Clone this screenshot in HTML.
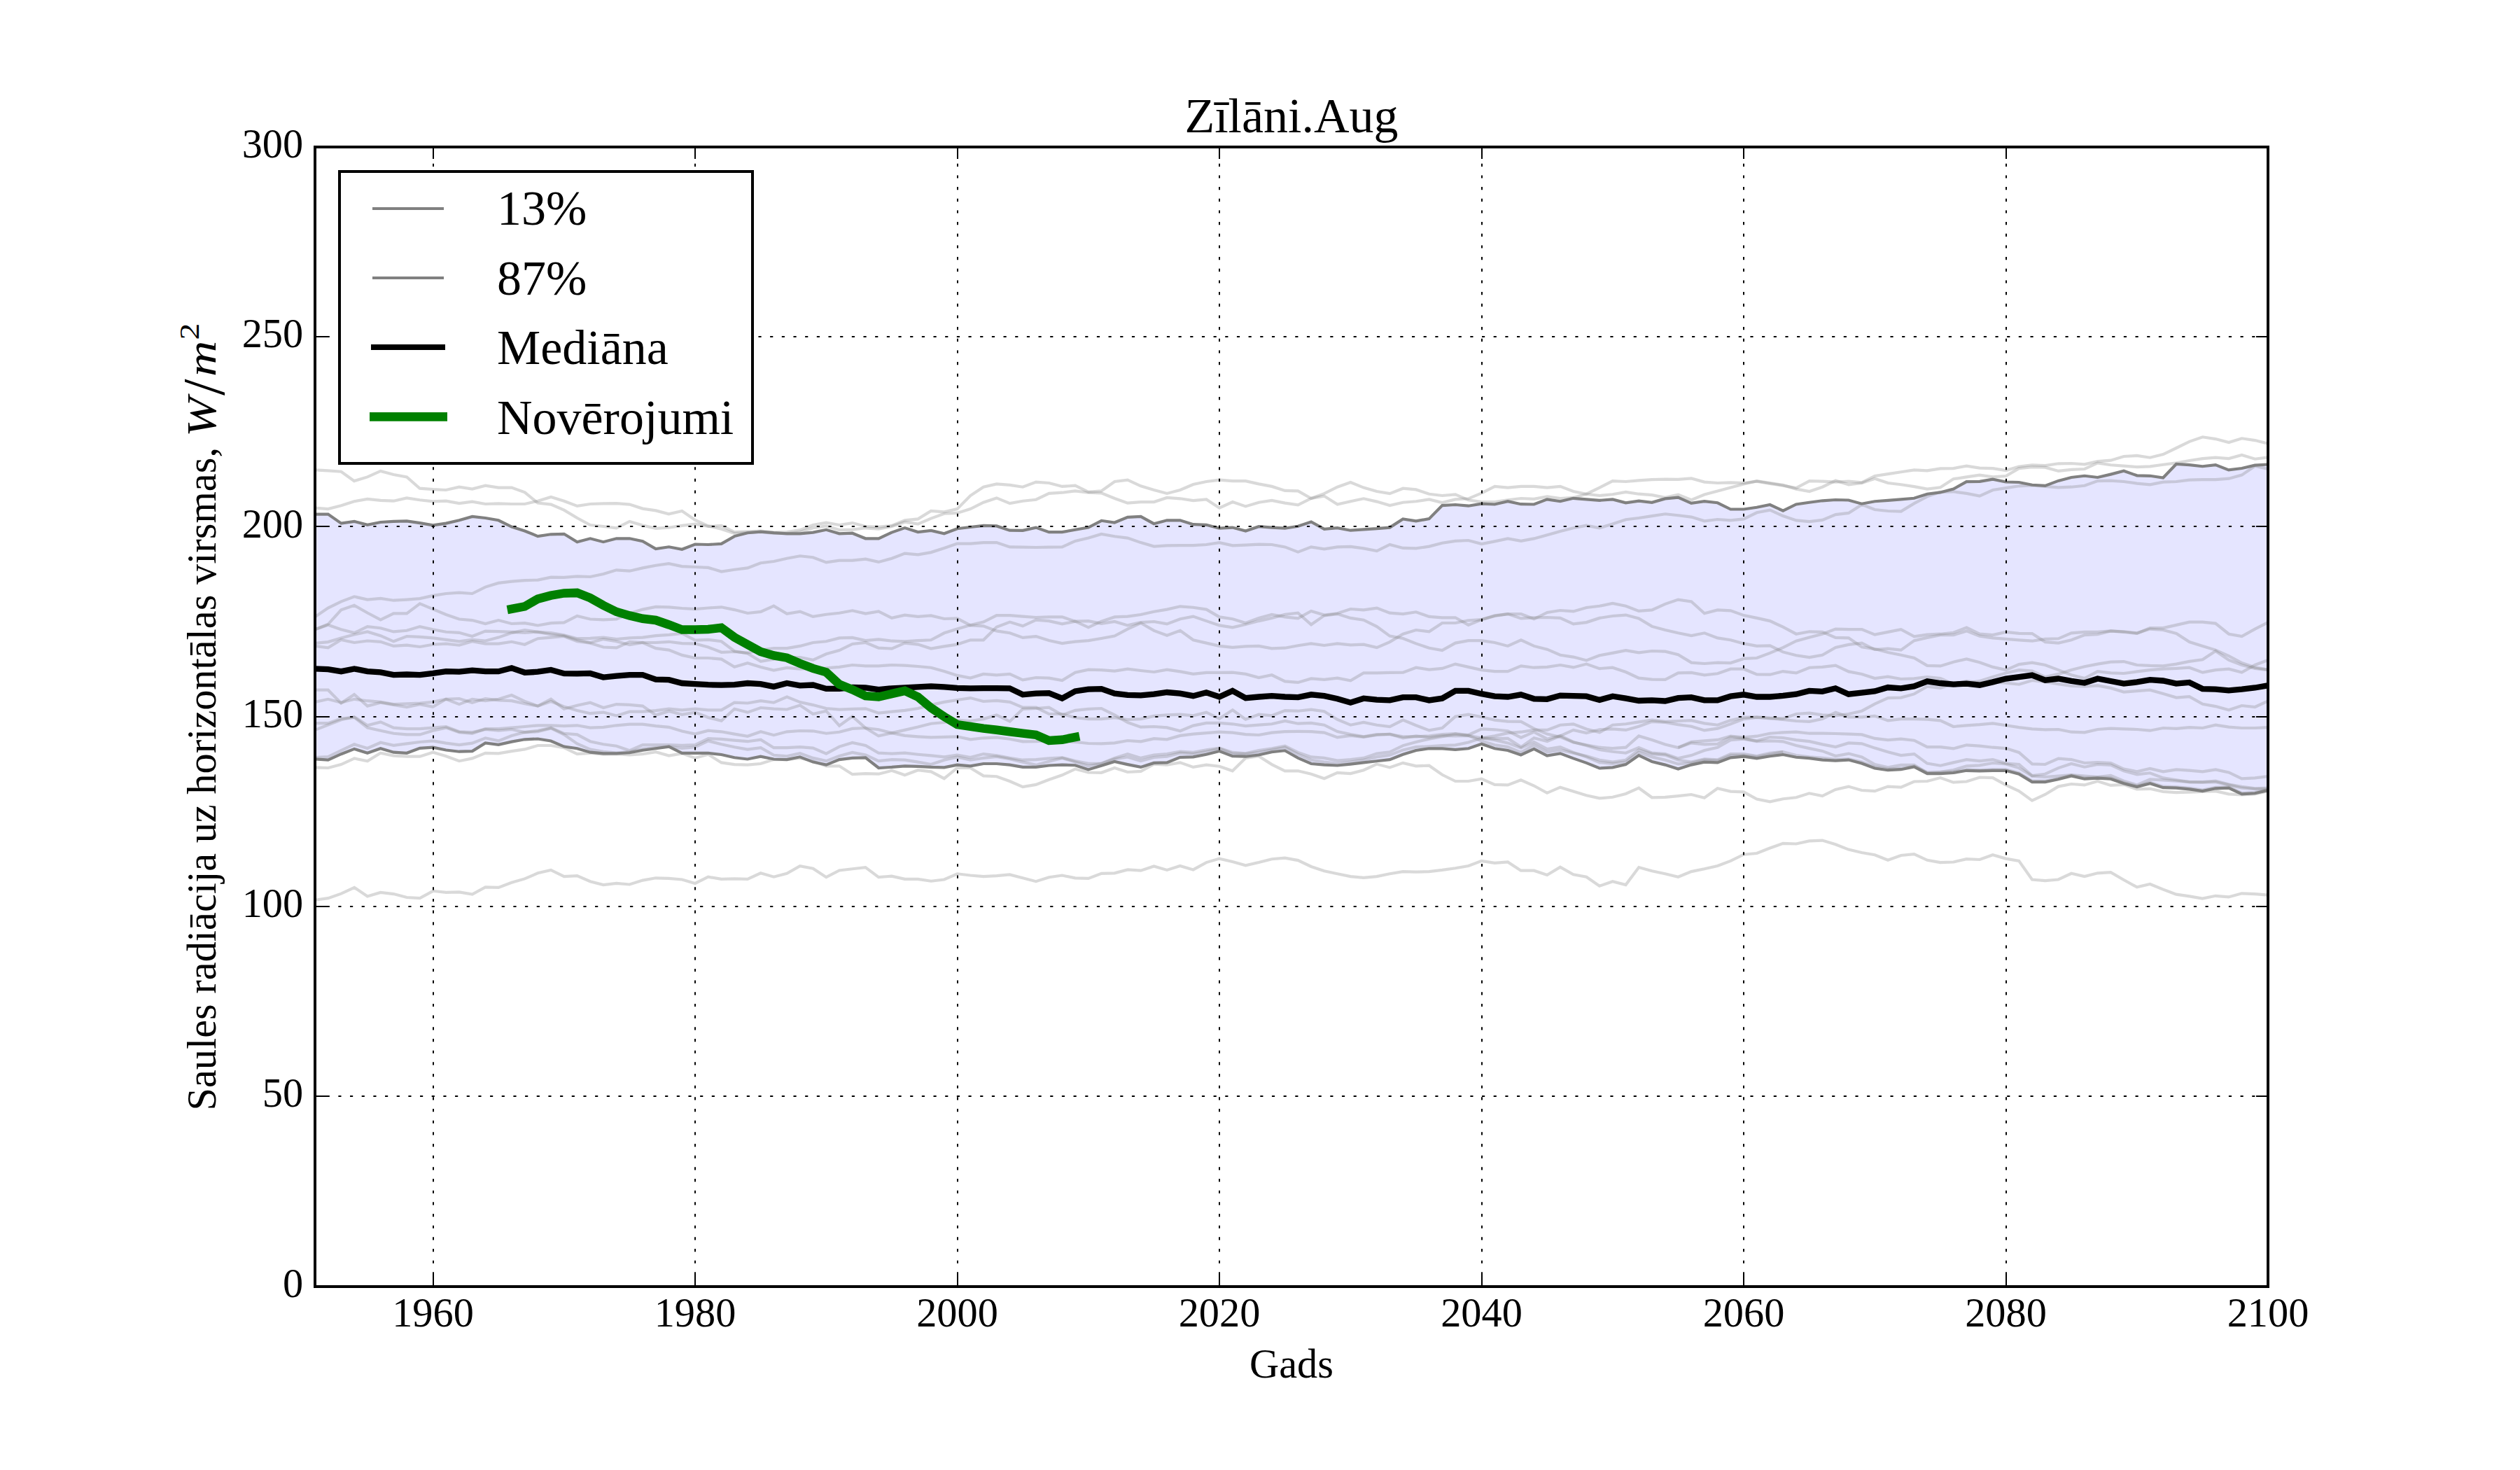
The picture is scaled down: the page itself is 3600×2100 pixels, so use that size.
<!DOCTYPE html>
<html><head><meta charset="utf-8"><title>Zīlāni.Aug</title>
<style>
html,body{margin:0;padding:0;background:#fff;}
body{width:3600px;height:2100px;overflow:hidden;}
svg{display:block;}
text{font-family:"Liberation Serif","DejaVu Serif",serif;fill:#000;}
.tk{font-size:58.33px;}
.lg{font-size:70px;}
.light{fill:none;stroke:#808080;stroke-opacity:0.3;stroke-width:4.17;stroke-linejoin:miter;stroke-linecap:butt;}
.dark{fill:none;stroke:#808080;stroke-width:4.17;stroke-linejoin:miter;stroke-linecap:square;}
.med{fill:none;stroke:#000;stroke-width:8.33;stroke-linejoin:miter;stroke-linecap:square;}
.obs{fill:none;stroke:#008000;stroke-width:12.5;stroke-linejoin:miter;stroke-linecap:square;}
.grid{fill:none;stroke:#000;stroke-width:2;stroke-dasharray:4.17 12.5;}
.tick{fill:none;stroke:#000;stroke-width:2;}
</style></head><body>
<svg width="3600" height="2100" viewBox="0 0 3600 2100">
<rect x="0" y="0" width="3600" height="2100" fill="#ffffff"/>
<defs><clipPath id="ax"><rect x="450" y="210" width="2790" height="1627.5"/></clipPath></defs>
<g clip-path="url(#ax)">
<polygon points="450.0,734.6 468.7,734.6 487.4,747.6 506.2,744.9 524.9,749.8 543.6,746.0 562.3,744.9 581.1,744.4 599.8,747.1 618.5,750.3 637.2,747.6 656.0,743.3 674.7,737.9 693.4,740.0 712.1,743.3 730.9,752.5 749.6,758.5 768.3,766.1 787.0,763.3 805.8,762.8 824.5,774.2 843.2,769.3 861.9,774.2 880.7,769.3 899.4,769.3 918.1,773.1 936.8,784.0 955.6,781.3 974.3,784.8 993.0,777.5 1011.7,778.0 1030.5,776.9 1049.2,766.1 1067.9,761.2 1086.6,759.6 1105.4,761.2 1124.1,762.3 1142.8,762.3 1161.5,760.6 1180.3,756.8 1199.0,762.3 1217.7,761.7 1236.4,769.3 1255.2,769.3 1273.9,760.6 1292.6,754.1 1311.3,760.1 1330.1,757.9 1348.8,762.3 1367.5,755.2 1386.2,753.0 1405.0,750.9 1423.7,751.4 1442.4,757.7 1461.1,757.9 1479.9,753.6 1498.6,760.1 1517.3,760.1 1536.0,756.8 1554.8,753.6 1573.5,743.8 1592.2,746.5 1610.9,738.9 1629.7,737.9 1648.4,748.2 1667.1,743.3 1685.8,743.3 1704.6,749.2 1723.3,749.8 1742.0,754.7 1760.7,753.6 1779.5,758.5 1798.2,752.2 1816.9,753.6 1835.6,754.7 1854.4,751.7 1873.1,745.4 1891.8,755.8 1910.5,754.1 1929.3,757.7 1948.0,756.3 1966.7,755.2 1985.4,753.6 2004.2,741.4 2022.9,744.4 2041.6,741.1 2060.3,722.1 2079.1,721.0 2097.8,722.7 2116.5,719.7 2135.2,720.5 2154.0,716.2 2172.7,720.2 2191.4,720.5 2210.1,713.4 2228.9,716.2 2247.6,711.8 2266.3,713.4 2285.0,714.8 2303.8,713.4 2322.5,718.3 2341.2,715.6 2359.9,717.8 2378.7,712.4 2397.4,710.7 2416.1,718.9 2434.8,716.2 2453.6,718.3 2472.3,727.5 2491.0,727.5 2509.7,724.8 2528.5,721.0 2547.2,729.7 2565.9,720.5 2584.6,717.8 2603.4,715.3 2622.1,714.0 2640.8,714.5 2659.5,719.7 2678.3,716.2 2697.0,714.8 2715.7,713.4 2734.4,711.8 2753.2,705.8 2771.9,703.4 2790.6,698.5 2809.3,688.2 2828.1,687.9 2846.8,684.7 2865.5,688.5 2884.2,689.0 2903.0,692.8 2921.7,693.9 2940.4,686.9 2959.1,682.0 2977.9,679.8 2996.6,682.0 3015.3,677.6 3034.0,672.8 3052.8,679.3 3071.5,679.8 3090.2,682.5 3108.9,663.0 3127.7,664.1 3146.4,666.2 3165.1,664.1 3183.8,671.4 3202.6,669.0 3221.3,664.6 3240.0,663.5 3240.0,1129.0 3221.3,1133.3 3202.6,1134.4 3183.8,1125.7 3165.1,1126.3 3146.4,1130.1 3127.7,1127.4 3108.9,1125.7 3090.2,1125.2 3071.5,1119.2 3052.8,1124.1 3034.0,1119.2 3015.3,1112.7 2996.6,1111.6 2977.9,1112.7 2959.1,1108.4 2940.4,1113.3 2921.7,1117.1 2903.0,1117.1 2884.2,1105.7 2865.5,1100.8 2846.8,1100.8 2828.1,1101.3 2809.3,1100.8 2790.6,1104.0 2771.9,1105.1 2753.2,1105.1 2734.4,1095.4 2715.7,1099.2 2697.0,1100.2 2678.3,1097.5 2659.5,1090.5 2640.8,1085.6 2622.1,1086.7 2603.4,1085.6 2584.6,1083.2 2565.9,1081.8 2547.2,1078.0 2528.5,1080.2 2509.7,1083.4 2491.0,1080.7 2472.3,1082.3 2453.6,1089.4 2434.8,1088.6 2416.1,1092.6 2397.4,1098.6 2378.7,1092.6 2359.9,1088.0 2341.2,1079.1 2322.5,1092.1 2303.8,1096.4 2285.0,1097.5 2266.3,1089.9 2247.6,1083.4 2228.9,1076.4 2210.1,1079.6 2191.4,1069.9 2172.7,1078.5 2154.0,1072.0 2135.2,1069.3 2116.5,1062.8 2097.8,1069.3 2079.1,1070.9 2060.3,1069.3 2041.6,1069.3 2022.9,1072.0 2004.2,1077.7 1985.4,1085.1 1966.7,1087.2 1948.0,1089.4 1929.3,1091.6 1910.5,1093.5 1891.8,1092.6 1873.1,1091.0 1854.4,1082.9 1835.6,1072.3 1816.9,1074.2 1798.2,1078.5 1779.5,1080.7 1760.7,1080.2 1742.0,1073.1 1723.3,1077.7 1704.6,1081.3 1685.8,1081.8 1667.1,1089.4 1648.4,1089.9 1629.7,1095.9 1610.9,1092.1 1592.2,1088.0 1573.5,1093.7 1554.8,1099.4 1536.0,1093.2 1517.3,1092.6 1498.6,1093.5 1479.9,1095.9 1461.1,1095.9 1442.4,1092.6 1423.7,1091.0 1405.0,1091.0 1386.2,1094.3 1367.5,1092.6 1348.8,1096.4 1330.1,1095.9 1311.3,1094.8 1292.6,1094.3 1273.9,1095.9 1255.2,1097.0 1236.4,1082.3 1217.7,1082.9 1199.0,1085.1 1180.3,1092.6 1161.5,1088.6 1142.8,1081.3 1124.1,1085.1 1105.4,1084.5 1086.6,1080.7 1067.9,1084.5 1049.2,1082.3 1030.5,1078.0 1011.7,1075.8 993.0,1075.8 974.3,1075.8 955.6,1066.6 936.8,1069.3 918.1,1071.8 899.4,1075.3 880.7,1076.4 861.9,1076.4 843.2,1074.7 824.5,1069.3 805.8,1066.6 787.0,1058.5 768.3,1055.5 749.6,1056.3 730.9,1059.6 712.1,1063.9 693.4,1061.5 674.7,1073.1 656.0,1073.7 637.2,1071.5 618.5,1067.7 599.8,1068.8 581.1,1075.8 562.3,1074.7 543.6,1069.3 524.9,1075.8 506.2,1069.9 487.4,1077.2 468.7,1085.6 450.0,1084.3" fill="#0000ff" fill-opacity="0.1"/>
<polyline class="light" points="450.0,671.4 468.6,672.3 487.4,673.7 506.0,687.1 524.9,681.4 543.7,672.9 562.3,678.0 581.1,681.4 599.7,697.7 618.6,699.1 637.1,700.0 656.0,695.7 674.6,698.6 693.4,693.7 712.0,696.6 730.9,696.6 749.7,703.4 768.3,718.6 787.1,720.6 805.7,728.6 824.6,740.0 843.1,750.0 862.0,752.0 880.6,754.3 899.4,744.9 918.0,750.6 936.9,754.9 955.4,753.7 974.3,750.9 993.1,748.6 1011.7,752.0 1030.6,750.9 1049.1,760.0 1068.0,759.4 1086.6,758.6 1105.4,760.6 1124.0,760.0 1142.9,757.1 1161.4,750.0 1180.3,746.6 1199.1,750.0 1217.7,747.1 1236.6,752.0 1255.1,752.9 1274.0,750.9 1292.6,743.4 1311.4,741.4 1330.0,730.0 1348.9,731.4 1367.4,727.1 1386.3,708.0 1404.9,695.7 1423.7,691.4 1442.6,692.9 1461.1,695.7 1480.0,688.6 1498.6,690.0 1517.4,694.9 1536.0,693.7 1554.9,702.9 1573.4,701.4 1592.3,688.0 1610.9,685.7 1629.7,694.3 1648.6,700.0 1667.1,704.9 1686.0,700.0 1704.6,692.0 1723.4,688.0 1742.0,685.7 1760.9,687.1 1779.4,687.1 1798.3,691.4 1816.9,694.9 1835.7,700.9 1854.3,701.4 1873.1,712.0 1891.7,705.1 1910.6,695.7 1929.4,689.1 1948.0,696.6 1966.9,702.0 1985.4,705.1 2004.3,697.7 2022.9,699.4 2041.7,705.7 2060.3,708.0 2079.1,706.3 2097.7,714.3 2116.6,717.1 2135.4,717.1 2154.0,714.3 2172.9,712.0 2191.4,712.9 2210.3,709.4 2228.9,712.0 2247.7,710.9 2266.3,705.7 2285.1,696.6 2303.7,687.1 2322.6,688.0 2341.1,686.3 2360.0,685.1 2378.9,684.6 2397.4,684.9 2416.3,683.4 2434.9,688.6 2453.7,690.0 2472.3,689.4 2491.1,690.0 2509.7,687.7 2528.6,690.9 2547.1,693.7 2566.0,697.1 2584.9,687.1 2603.4,687.7 2622.3,688.6 2640.9,687.7 2659.7,689.4 2678.3,680.0 2697.1,677.1 2715.7,674.3 2734.6,671.4 2753.1,672.3 2772.0,669.4 2790.6,669.1 2809.4,665.7 2828.0,668.6 2846.9,669.1 2865.7,672.0 2884.3,666.6 2903.1,664.3 2921.7,665.1 2940.6,662.3 2959.1,662.0 2978.0,663.4 2996.6,659.1 3015.4,657.7 3034.0,652.0 3052.9,650.9 3071.4,653.7 3090.3,649.1 3109.1,640.0 3127.7,630.9 3146.6,624.3 3165.1,627.1 3184.0,632.0 3202.6,626.3 3221.4,629.1 3240.0,633.7"/>
<polyline class="light" points="450.0,725.7 468.6,727.1 487.4,722.3 506.0,716.3 524.9,712.9 543.7,714.9 562.3,715.7 581.1,711.4 599.7,714.3 618.6,716.3 637.1,715.7 656.0,719.1 674.6,716.6 693.4,720.0 712.0,719.4 730.9,720.0 749.7,720.0 768.3,715.7 787.1,710.0 805.7,715.7 824.6,722.9 843.1,720.0 862.0,719.4 880.6,719.1 899.4,720.6 918.0,726.6 936.9,729.4 955.4,734.3 974.3,730.0 993.1,742.9 1011.7,751.4 1030.6,755.7 1049.1,762.0 1068.0,760.9 1086.6,760.0 1105.4,762.0 1124.0,762.0 1142.9,760.0 1161.4,754.3 1180.3,751.4 1199.1,757.1 1217.7,756.6 1236.6,754.3 1255.1,755.7 1274.0,752.0 1292.6,745.7 1311.4,748.6 1330.0,740.6 1348.9,733.7 1367.4,732.9 1386.3,727.1 1404.9,717.7 1423.7,711.4 1442.6,719.1 1461.1,715.7 1480.0,713.7 1498.6,704.9 1517.4,703.7 1536.0,701.4 1554.9,703.7 1573.4,704.3 1592.3,712.0 1610.9,718.6 1629.7,717.1 1648.6,717.1 1667.1,710.9 1686.0,712.3 1704.6,715.1 1723.4,713.4 1742.0,725.7 1760.9,717.1 1779.4,723.4 1798.3,717.7 1816.9,714.9 1835.7,718.6 1854.3,721.4 1873.1,712.0 1891.7,708.6 1910.6,720.6 1929.4,716.3 1948.0,712.3 1966.9,716.6 1985.4,722.0 2004.3,717.7 2022.9,716.3 2041.7,713.4 2060.3,718.0 2079.1,713.4 2097.7,712.3 2116.6,704.3 2135.4,694.9 2154.0,696.6 2172.9,694.9 2191.4,694.9 2210.3,696.6 2228.9,694.9 2247.7,702.0 2266.3,705.7 2285.1,708.0 2303.7,706.3 2322.6,702.9 2341.1,705.7 2360.0,707.1 2378.9,710.9 2397.4,706.6 2416.3,714.3 2434.9,706.6 2453.7,701.4 2472.3,696.6 2491.1,691.4 2509.7,687.1 2528.6,690.0 2547.1,692.9 2566.0,698.6 2584.9,702.0 2603.4,695.7 2622.3,686.6 2640.9,692.3 2659.7,690.0 2678.3,683.7 2697.1,690.0 2715.7,692.3 2734.6,695.1 2753.1,698.6 2772.0,696.3 2790.6,684.3 2809.4,681.4 2828.0,678.6 2846.9,681.4 2865.7,680.0 2884.3,669.1 2903.1,667.1 2921.7,667.7 2940.6,672.9 2959.1,670.9 2978.0,670.0 2996.6,661.4 3015.4,664.3 3034.0,665.7 3052.9,667.1 3071.4,666.3 3090.3,663.7 3109.1,661.4 3127.7,658.0 3146.6,655.1 3165.1,653.7 3184.0,655.1 3202.6,650.0 3221.4,655.7 3240.0,653.4"/>
<polyline class="light" points="450.0,881.4 468.6,868.6 487.4,859.4 506.0,852.3 524.9,856.6 543.7,854.9 562.3,857.7 581.1,856.6 599.7,855.1 618.6,850.9 637.1,848.0 656.0,846.6 674.6,848.0 693.4,838.6 712.0,832.9 730.9,830.6 749.7,829.1 768.3,828.6 787.1,824.6 805.7,824.9 824.6,823.4 843.1,824.0 862.0,820.0 880.6,814.3 899.4,815.7 918.0,811.4 936.9,807.7 955.4,805.1 974.3,809.1 993.1,810.0 1011.7,810.9 1030.6,816.6 1049.1,813.7 1068.0,811.4 1086.6,804.3 1105.4,802.0 1124.0,797.7 1142.9,794.3 1161.4,796.3 1180.3,803.4 1199.1,800.6 1217.7,800.6 1236.6,798.6 1255.1,802.9 1274.0,797.7 1292.6,790.6 1311.4,792.3 1330.0,789.1 1348.9,782.9 1367.4,776.6 1386.3,776.6 1404.9,775.1 1423.7,775.1 1442.6,781.4 1461.1,781.7 1480.0,782.0 1498.6,781.7 1517.4,781.4 1536.0,772.9 1554.9,768.6 1573.4,762.9 1592.3,766.3 1610.9,768.6 1629.7,775.1 1648.6,780.6 1667.1,779.4 1686.0,779.1 1704.6,779.1 1723.4,778.0 1742.0,775.1 1760.9,779.4 1779.4,778.6 1798.3,777.7 1816.9,778.0 1835.7,781.4 1854.3,788.6 1873.1,781.4 1891.7,784.3 1910.6,781.4 1929.4,780.9 1948.0,783.4 1966.9,787.1 1985.4,778.0 2004.3,782.9 2022.9,783.4 2041.7,780.6 2060.3,775.7 2079.1,772.9 2097.7,772.0 2116.6,777.1 2135.4,773.4 2154.0,769.4 2172.9,772.9 2191.4,769.4 2210.3,764.3 2228.9,759.1 2247.7,754.3 2266.3,750.6 2285.1,754.3 2303.7,748.6 2322.6,742.3 2341.1,740.0 2360.0,737.1 2378.9,734.3 2397.4,736.3 2416.3,738.6 2434.9,744.3 2453.7,742.0 2472.3,743.4 2491.1,741.4 2509.7,732.3 2528.6,728.6 2547.1,737.1 2566.0,743.4 2584.9,745.1 2603.4,742.9 2622.3,735.1 2640.9,732.9 2659.7,720.9 2678.3,728.0 2697.1,730.0 2715.7,730.6 2734.6,719.1 2753.1,709.4 2772.0,702.9 2790.6,702.3 2809.4,704.9 2828.0,708.6 2846.9,700.0 2865.7,697.1 2884.3,694.3 2903.1,693.4 2921.7,694.9 2940.6,696.3 2959.1,695.7 2978.0,693.7 2996.6,687.1 3015.4,686.6 3034.0,688.0 3052.9,690.6 3071.4,692.3 3090.3,688.6 3109.1,688.0 3127.7,685.7 3146.6,685.1 3165.1,685.1 3184.0,683.7 3202.6,678.6 3221.4,665.7 3240.0,670.0"/>
<polyline class="light" points="450.0,899.2 468.7,891.8 487.3,871.4 506.1,864.9 524.9,875.5 543.7,885.3 562.3,876.3 581.1,876.3 599.8,862.4 618.4,870.1 637.2,878.0 656.0,884.5 674.6,886.1 693.4,891.0 712.2,886.1 730.9,891.0 749.6,890.2 768.3,893.5 787.1,890.2 805.7,889.4 824.5,880.0 843.2,884.5 862.0,885.3 880.7,884.5 899.5,876.3 918.1,870.6 936.9,866.9 955.7,867.3 974.3,869.0 993.1,870.1 1011.8,868.5 1030.6,867.3 1049.2,871.1 1068.0,876.0 1086.8,873.9 1105.4,865.7 1124.2,876.7 1142.9,873.6 1161.4,880.9 1180.3,877.7 1199.1,875.7 1217.7,872.3 1236.6,876.6 1255.1,873.4 1274.0,882.9 1292.6,878.6 1311.4,880.9 1330.0,879.4 1348.9,884.0 1367.4,883.4 1386.3,893.4 1404.9,894.3 1423.7,901.4 1442.6,904.3 1461.1,910.9 1480.0,909.1 1498.6,915.1 1517.4,919.1 1536.0,916.6 1554.9,915.1 1573.4,912.0 1592.3,908.6 1610.9,898.6 1629.7,890.0 1648.6,900.9 1667.1,907.7 1686.0,900.9 1704.6,914.3 1723.4,918.6 1742.0,922.9 1760.9,924.9 1779.4,923.4 1798.3,922.9 1816.9,926.3 1835.7,925.7 1854.3,922.3 1873.1,919.4 1891.7,922.0 1910.6,919.4 1929.4,921.4 1948.0,920.6 1966.9,925.1 1985.4,917.1 2004.3,905.7 2022.9,900.0 2041.7,902.3 2060.3,890.0 2079.1,890.0 2097.7,886.3 2116.6,885.1 2135.4,880.0 2154.0,877.1 2172.9,877.1 2191.4,884.3 2210.3,874.9 2228.9,872.0 2247.7,873.4 2266.3,868.0 2285.1,865.7 2303.7,862.0 2322.6,865.7 2341.1,872.9 2360.0,871.4 2378.9,862.9 2397.4,856.6 2416.3,859.4 2434.9,876.3 2453.7,871.4 2472.3,872.3 2491.1,879.1 2509.7,882.9 2528.6,887.1 2547.1,895.7 2566.0,905.7 2584.9,902.3 2603.4,902.9 2622.3,910.9 2640.9,911.4 2659.7,924.3 2678.3,927.1 2697.1,932.0 2715.7,935.7 2734.6,940.0 2753.1,950.9 2772.0,951.4 2790.6,945.7 2809.4,941.4 2828.0,946.3 2846.9,952.9 2865.7,957.1 2884.3,949.1 2903.1,946.6 2921.7,950.0 2940.6,957.1 2959.1,964.3 2978.0,969.1 2996.6,959.1 3015.4,961.4 3034.0,962.0 3052.9,959.4 3071.4,957.1 3090.3,955.7 3109.1,954.9 3127.7,953.7 3146.6,960.6 3165.1,957.1 3184.0,955.7 3202.6,960.6 3221.4,950.0 3240.0,942.9"/>
<polyline class="light" points="450.0,899.2 468.7,892.7 487.3,899.2 506.1,904.1 524.9,895.1 543.7,897.2 562.3,902.4 581.1,900.8 599.8,895.1 618.4,899.2 637.2,902.8 656.0,903.8 674.6,909.0 693.4,901.6 712.2,902.1 730.9,902.8 749.6,903.8 768.3,902.8 787.1,904.1 805.7,907.3 824.5,912.2 843.2,911.9 862.0,910.6 880.7,913.1 899.5,911.4 918.1,910.6 936.9,908.2 955.7,906.9 974.3,904.9 993.1,914.7 1011.8,913.9 1030.6,916.3 1049.2,930.2 1068.0,933.5 1086.8,944.9 1105.4,941.6 1124.2,939.2 1142.9,939.0 1161.4,942.9 1180.3,934.3 1199.1,929.1 1217.7,920.0 1236.6,918.0 1255.1,925.7 1274.0,926.6 1292.6,918.6 1311.4,920.6 1330.0,926.6 1348.9,923.4 1367.4,920.6 1386.3,914.3 1404.9,914.3 1423.7,895.7 1442.6,888.6 1461.1,894.3 1480.0,885.7 1498.6,887.1 1517.4,891.4 1536.0,887.7 1554.9,887.1 1573.4,890.9 1592.3,888.0 1610.9,893.4 1629.7,889.1 1648.6,888.0 1667.1,891.4 1686.0,884.3 1704.6,880.6 1723.4,887.1 1742.0,893.4 1760.9,896.3 1779.4,892.0 1798.3,887.1 1816.9,882.9 1835.7,877.7 1854.3,875.7 1873.1,892.3 1891.7,879.4 1910.6,877.1 1929.4,882.9 1948.0,885.7 1966.9,895.1 1985.4,908.6 2004.3,912.0 2022.9,919.4 2041.7,925.7 2060.3,929.1 2079.1,918.6 2097.7,915.1 2116.6,915.1 2135.4,918.0 2154.0,922.9 2172.9,914.3 2191.4,922.9 2210.3,927.7 2228.9,935.7 2247.7,938.6 2266.3,943.4 2285.1,936.3 2303.7,932.9 2322.6,929.1 2341.1,932.3 2360.0,930.0 2378.9,930.6 2397.4,935.1 2416.3,946.6 2434.9,948.0 2453.7,946.6 2472.3,947.1 2491.1,940.9 2509.7,940.0 2528.6,932.9 2547.1,925.1 2566.0,915.7 2584.9,910.6 2603.4,905.7 2622.3,898.6 2640.9,899.1 2659.7,899.1 2678.3,906.6 2697.1,902.9 2715.7,899.1 2734.6,909.4 2753.1,906.6 2772.0,905.7 2790.6,903.7 2809.4,896.6 2828.0,905.7 2846.9,907.1 2865.7,902.9 2884.3,904.9 2903.1,905.1 2921.7,917.1 2940.6,918.6 2959.1,914.3 2978.0,907.1 2996.6,906.3 3015.4,901.4 3034.0,902.3 3052.9,904.3 3071.4,898.6 3090.3,900.0 3109.1,904.9 3127.7,917.1 3146.6,922.9 3165.1,928.6 3184.0,937.1 3202.6,947.1 3221.4,953.4 3240.0,956.6"/>
<polyline class="light" points="450.0,918.8 468.7,917.1 487.3,911.4 506.1,906.5 524.9,902.4 543.7,908.2 562.3,916.3 581.1,909.0 599.8,909.8 618.4,911.4 637.2,913.9 656.0,916.3 674.6,913.9 693.4,915.5 712.2,910.6 730.9,904.1 749.6,900.0 768.3,902.8 787.1,906.5 805.7,908.2 824.5,913.9 843.2,918.0 862.0,913.1 880.7,916.3 899.5,921.2 918.1,918.0 936.9,926.1 955.7,928.6 974.3,935.9 993.1,940.0 1011.8,940.0 1030.6,941.6 1049.2,952.7 1068.0,947.3 1086.8,953.1 1105.4,957.6 1124.2,953.9 1142.9,955.6 1161.4,954.9 1180.3,954.3 1199.1,952.9 1217.7,950.0 1236.6,951.4 1255.1,951.4 1274.0,950.0 1292.6,950.6 1311.4,952.0 1330.0,953.7 1348.9,959.1 1367.4,964.9 1386.3,968.6 1404.9,962.9 1423.7,964.3 1442.6,962.9 1461.1,971.4 1480.0,968.0 1498.6,968.6 1517.4,972.0 1536.0,960.6 1554.9,956.6 1573.4,957.1 1592.3,958.6 1610.9,955.7 1629.7,958.0 1648.6,960.0 1667.1,956.6 1686.0,959.4 1704.6,962.9 1723.4,960.9 1742.0,960.9 1760.9,960.6 1779.4,962.9 1798.3,968.0 1816.9,964.3 1835.7,973.4 1854.3,974.9 1873.1,969.4 1891.7,970.9 1910.6,968.6 1929.4,972.3 1948.0,961.4 1966.9,961.4 1985.4,960.9 2004.3,960.6 2022.9,953.7 2041.7,956.6 2060.3,954.9 2079.1,948.6 2097.7,952.9 2116.6,957.1 2135.4,959.1 2154.0,959.1 2172.9,951.4 2191.4,953.7 2210.3,952.9 2228.9,950.0 2247.7,953.4 2266.3,948.6 2285.1,955.1 2303.7,953.7 2322.6,960.0 2341.1,968.6 2360.0,970.6 2378.9,970.9 2397.4,961.4 2416.3,960.9 2434.9,964.3 2453.7,962.3 2472.3,955.7 2491.1,955.7 2509.7,963.4 2528.6,963.7 2547.1,959.1 2566.0,961.4 2584.9,953.7 2603.4,952.9 2622.3,950.6 2640.9,959.4 2659.7,962.9 2678.3,969.1 2697.1,966.6 2715.7,970.0 2734.6,969.4 2753.1,967.1 2772.0,969.1 2790.6,977.1 2809.4,972.9 2828.0,975.7 2846.9,974.3 2865.7,975.7 2884.3,977.7 2903.1,972.0 2921.7,974.3 2940.6,977.1 2959.1,980.0 2978.0,980.6 2996.6,979.4 3015.4,982.9 3034.0,988.6 3052.9,987.1 3071.4,985.7 3090.3,990.9 3109.1,996.6 3127.7,995.1 3146.6,1005.7 3165.1,1009.1 3184.0,1014.3 3202.6,1008.0 3221.4,1010.0 3240.0,1001.4"/>
<polyline class="light" points="450.0,922.9 468.7,925.3 487.3,913.9 506.1,918.0 524.9,915.5 543.7,916.8 562.3,922.9 581.1,921.7 599.8,924.0 618.4,920.7 637.2,919.6 656.0,921.7 674.6,916.3 693.4,919.6 712.2,919.6 730.9,916.8 749.6,920.7 768.3,912.2 787.1,910.6 805.7,909.0 824.5,916.3 843.2,918.8 862.0,924.5 880.7,925.3 899.5,916.8 918.1,918.0 936.9,918.0 955.7,916.8 974.3,919.1 993.1,919.6 1011.8,924.5 1030.6,931.8 1049.2,931.0 1068.0,932.7 1086.8,928.6 1105.4,926.1 1124.2,926.1 1142.9,922.9 1161.4,918.0 1180.3,916.3 1199.1,911.4 1217.7,910.9 1236.6,915.1 1255.1,913.4 1274.0,915.7 1292.6,916.3 1311.4,915.1 1330.0,914.3 1348.9,904.3 1367.4,898.6 1386.3,892.9 1404.9,888.6 1423.7,879.1 1442.6,879.1 1461.1,880.6 1480.0,882.0 1498.6,881.4 1517.4,881.4 1536.0,887.7 1554.9,896.3 1573.4,887.7 1592.3,881.4 1610.9,880.6 1629.7,878.0 1648.6,873.7 1667.1,870.6 1686.0,866.3 1704.6,867.7 1723.4,870.6 1742.0,881.4 1760.9,884.3 1779.4,890.0 1798.3,882.9 1816.9,878.0 1835.7,881.4 1854.3,883.4 1873.1,872.9 1891.7,878.6 1910.6,876.3 1929.4,870.0 1948.0,871.4 1966.9,868.6 1985.4,875.7 2004.3,877.1 2022.9,874.3 2041.7,880.9 2060.3,882.3 2079.1,882.3 2097.7,892.9 2116.6,885.1 2135.4,879.4 2154.0,877.1 2172.9,883.4 2191.4,882.3 2210.3,882.0 2228.9,882.9 2247.7,891.4 2266.3,889.1 2285.1,882.9 2303.7,880.0 2322.6,878.6 2341.1,883.4 2360.0,894.9 2378.9,900.0 2397.4,904.3 2416.3,908.0 2434.9,904.3 2453.7,911.4 2472.3,914.3 2491.1,919.4 2509.7,922.9 2528.6,922.3 2547.1,931.4 2566.0,936.3 2584.9,939.1 2603.4,935.7 2622.3,924.9 2640.9,920.9 2659.7,918.6 2678.3,928.0 2697.1,926.6 2715.7,928.6 2734.6,915.1 2753.1,910.9 2772.0,907.1 2790.6,907.1 2809.4,901.4 2828.0,908.6 2846.9,911.4 2865.7,912.9 2884.3,914.3 2903.1,915.7 2921.7,912.9 2940.6,912.3 2959.1,904.3 2978.0,902.9 2996.6,902.9 3015.4,901.4 3034.0,902.9 3052.9,904.9 3071.4,897.1 3090.3,897.1 3109.1,892.9 3127.7,888.6 3146.6,888.6 3165.1,890.6 3184.0,905.7 3202.6,909.1 3221.4,898.6 3240.0,889.1"/>
<polyline class="light" points="450.0,985.7 468.7,985.7 487.3,1004.5 506.1,992.2 524.9,1008.6 543.7,1003.7 562.3,1006.9 581.1,1010.2 599.8,1006.1 618.4,1009.9 637.2,998.8 656.0,1006.1 674.6,998.8 693.4,1001.2 712.2,998.8 730.9,993.1 749.6,1002.0 768.3,1008.6 787.1,998.8 805.7,1012.7 824.5,1007.8 843.2,1003.7 862.0,1011.0 880.7,1006.1 899.5,1006.9 918.1,1008.6 936.9,1021.6 955.7,1015.9 974.3,1020.8 993.1,1017.6 1011.8,1024.9 1030.6,1029.8 1049.2,1012.7 1068.0,1017.6 1086.8,1011.0 1105.4,1012.7 1124.2,1013.5 1142.9,1007.5 1161.4,1020.0 1180.3,1015.7 1199.1,1036.6 1217.7,1023.4 1236.6,1040.0 1255.1,1051.4 1274.0,1047.1 1292.6,1042.9 1311.4,1038.6 1330.0,1033.7 1348.9,1032.0 1367.4,1028.6 1386.3,1030.0 1404.9,1027.1 1423.7,1021.4 1442.6,1030.6 1461.1,1012.9 1480.0,1012.0 1498.6,1010.6 1517.4,1021.4 1536.0,1014.9 1554.9,1012.9 1573.4,1012.0 1592.3,1021.4 1610.9,1032.0 1629.7,1038.6 1648.6,1038.0 1667.1,1039.4 1686.0,1044.3 1704.6,1036.6 1723.4,1032.9 1742.0,1032.9 1760.9,1034.3 1779.4,1037.1 1798.3,1035.7 1816.9,1034.3 1835.7,1030.0 1854.3,1033.7 1873.1,1032.9 1891.7,1035.7 1910.6,1045.1 1929.4,1049.1 1948.0,1052.3 1966.9,1049.1 1985.4,1049.1 2004.3,1052.3 2022.9,1052.3 2041.7,1051.4 2060.3,1049.1 2079.1,1048.0 2097.7,1050.0 2116.6,1041.4 2135.4,1042.3 2154.0,1044.3 2172.9,1053.7 2191.4,1045.7 2210.3,1055.7 2228.9,1050.9 2247.7,1060.0 2266.3,1065.1 2285.1,1070.9 2303.7,1073.7 2322.6,1075.7 2341.1,1068.0 2360.0,1075.7 2378.9,1077.1 2397.4,1083.4 2416.3,1079.1 2434.9,1072.0 2453.7,1067.7 2472.3,1057.1 2491.1,1055.7 2509.7,1059.1 2528.6,1058.3 2547.1,1059.3 2566.0,1065.1 2584.9,1069.1 2603.4,1072.9 2622.3,1080.0 2640.9,1076.6 2659.7,1081.4 2678.3,1092.0 2697.1,1096.3 2715.7,1092.9 2734.6,1092.9 2753.1,1104.3 2772.0,1102.9 2790.6,1100.0 2809.4,1094.3 2828.0,1093.4 2846.9,1090.0 2865.7,1091.4 2884.3,1097.1 2903.1,1108.6 2921.7,1110.0 2940.6,1108.6 2959.1,1107.1 2978.0,1108.6 2996.6,1110.0 3015.4,1108.0 3034.0,1115.7 3052.9,1121.4 3071.4,1113.4 3090.3,1114.3 3109.1,1115.7 3127.7,1117.1 3146.6,1117.7 3165.1,1117.1 3184.0,1121.4 3202.6,1125.7 3221.4,1127.1 3240.0,1127.1"/>
<polyline class="light" points="450.0,1002.9 468.7,998.8 487.3,1003.7 506.1,998.8 524.9,1001.2 543.7,1002.9 562.3,1006.1 581.1,1005.3 599.8,1004.5 618.4,1002.9 637.2,998.8 656.0,998.0 674.6,1003.7 693.4,998.0 712.2,1000.4 730.9,1001.2 749.6,1005.3 768.3,1008.6 787.1,1002.0 805.7,1009.4 824.5,1015.1 843.2,1019.2 862.0,1017.6 880.7,1022.4 899.5,1016.7 918.1,1016.7 936.9,1015.1 955.7,1012.7 974.3,1014.3 993.1,1012.7 1011.8,1014.3 1030.6,1014.3 1049.2,1003.7 1068.0,1004.5 1086.8,1001.2 1105.4,1003.7 1124.2,995.5 1142.9,1003.1 1161.4,1007.1 1180.3,1012.0 1199.1,1013.7 1217.7,1012.9 1236.6,1012.3 1255.1,1018.6 1274.0,1016.6 1292.6,1014.9 1311.4,1012.0 1330.0,1007.1 1348.9,1002.9 1367.4,1000.0 1386.3,997.1 1404.9,1002.0 1423.7,1000.9 1442.6,1002.9 1461.1,1010.6 1480.0,1010.6 1498.6,1020.0 1517.4,1020.0 1536.0,1025.1 1554.9,1027.1 1573.4,1027.1 1592.3,1025.1 1610.9,1028.0 1629.7,1027.1 1648.6,1022.9 1667.1,1021.4 1686.0,1020.6 1704.6,1022.3 1723.4,1017.7 1742.0,1026.6 1760.9,1014.3 1779.4,1027.7 1798.3,1020.6 1816.9,1022.3 1835.7,1015.1 1854.3,1015.7 1873.1,1013.7 1891.7,1016.3 1910.6,1028.0 1929.4,1035.7 1948.0,1032.0 1966.9,1035.7 1985.4,1038.0 2004.3,1028.6 2022.9,1036.3 2041.7,1043.4 2060.3,1040.0 2079.1,1023.7 2097.7,1020.6 2116.6,1024.3 2135.4,1028.6 2154.0,1030.6 2172.9,1030.9 2191.4,1040.9 2210.3,1048.6 2228.9,1052.9 2247.7,1060.6 2266.3,1064.3 2285.1,1067.7 2303.7,1069.1 2322.6,1067.7 2341.1,1051.4 2360.0,1057.1 2378.9,1063.4 2397.4,1068.0 2416.3,1059.7 2434.9,1058.3 2453.7,1056.9 2472.3,1051.7 2491.1,1053.4 2509.7,1051.7 2528.6,1047.7 2547.1,1046.4 2566.0,1045.7 2584.9,1047.7 2603.4,1047.7 2622.3,1048.0 2640.9,1048.6 2659.7,1049.4 2678.3,1054.9 2697.1,1057.1 2715.7,1055.7 2734.6,1057.7 2753.1,1067.1 2772.0,1067.1 2790.6,1069.4 2809.4,1064.3 2828.0,1065.7 2846.9,1067.7 2865.7,1069.1 2884.3,1074.9 2903.1,1091.4 2921.7,1092.0 2940.6,1083.7 2959.1,1085.1 2978.0,1090.0 2996.6,1089.1 3015.4,1090.0 3034.0,1098.6 3052.9,1102.3 3071.4,1098.0 3090.3,1102.3 3109.1,1099.4 3127.7,1100.6 3146.6,1102.3 3165.1,1099.4 3184.0,1103.4 3202.6,1112.3 3221.4,1111.4 3240.0,1109.1"/>
<polyline class="light" points="450.0,1042.9 468.7,1035.5 487.3,1028.2 506.1,1024.1 524.9,1036.3 543.7,1031.4 562.3,1039.6 581.1,1041.2 599.8,1041.2 618.4,1039.6 637.2,1038.0 656.0,1045.3 674.6,1046.1 693.4,1042.0 712.2,1043.7 730.9,1042.0 749.6,1046.1 768.3,1043.7 787.1,1039.6 805.7,1047.8 824.5,1049.4 843.2,1059.2 862.0,1063.3 880.7,1065.7 899.5,1072.2 918.1,1064.1 936.9,1064.1 955.7,1064.1 974.3,1064.9 993.1,1064.1 1011.8,1055.1 1030.6,1055.9 1049.2,1057.6 1068.0,1059.2 1086.8,1056.7 1105.4,1068.2 1124.2,1068.2 1142.9,1067.2 1161.4,1068.6 1180.3,1076.6 1199.1,1066.6 1217.7,1060.9 1236.6,1064.9 1255.1,1075.7 1274.0,1076.6 1292.6,1075.7 1311.4,1077.7 1330.0,1079.4 1348.9,1081.4 1367.4,1078.6 1386.3,1082.0 1404.9,1077.1 1423.7,1079.4 1442.6,1082.9 1461.1,1085.7 1480.0,1085.1 1498.6,1083.4 1517.4,1082.3 1536.0,1087.1 1554.9,1090.9 1573.4,1090.6 1592.3,1082.9 1610.9,1077.1 1629.7,1082.9 1648.6,1078.6 1667.1,1077.1 1686.0,1073.7 1704.6,1074.9 1723.4,1071.4 1742.0,1068.6 1760.9,1074.9 1779.4,1076.3 1798.3,1072.0 1816.9,1069.4 1835.7,1065.7 1854.3,1074.9 1873.1,1081.4 1891.7,1082.9 1910.6,1086.6 1929.4,1085.1 1948.0,1082.9 1966.9,1076.6 1985.4,1074.3 2004.3,1065.1 2022.9,1060.0 2041.7,1055.7 2060.3,1052.3 2079.1,1048.6 2097.7,1050.9 2116.6,1058.6 2135.4,1064.3 2154.0,1067.1 2172.9,1074.9 2191.4,1064.3 2210.3,1074.3 2228.9,1071.4 2247.7,1075.7 2266.3,1080.0 2285.1,1085.7 2303.7,1088.6 2322.6,1085.7 2341.1,1071.4 2360.0,1077.1 2378.9,1078.6 2397.4,1085.7 2416.3,1088.6 2434.9,1084.3 2453.7,1085.4 2472.3,1077.1 2491.1,1077.1 2509.7,1080.0 2528.6,1075.7 2547.1,1074.0 2566.0,1079.1 2584.9,1081.4 2603.4,1082.9 2622.3,1084.9 2640.9,1084.3 2659.7,1088.6 2678.3,1095.7 2697.1,1098.6 2715.7,1097.7 2734.6,1094.3 2753.1,1103.4 2772.0,1103.4 2790.6,1102.3 2809.4,1099.4 2828.0,1100.0 2846.9,1099.1 2865.7,1099.4 2884.3,1104.3 2903.1,1115.7 2921.7,1115.7 2940.6,1112.0 2959.1,1107.4 2978.0,1111.4 2996.6,1110.3 3015.4,1111.4 3034.0,1118.0 3052.9,1122.9 3071.4,1117.7 3090.3,1123.7 3109.1,1124.3 3127.7,1125.7 3146.6,1128.6 3165.1,1124.9 3184.0,1124.3 3202.6,1132.9 3221.4,1132.0 3240.0,1127.7"/>
<polyline class="light" points="450.0,1033.1 468.7,1033.1 487.3,1026.5 506.1,1024.9 524.9,1039.6 543.7,1043.7 562.3,1047.8 581.1,1049.4 599.8,1049.4 618.4,1043.7 637.2,1039.6 656.0,1046.1 674.6,1047.8 693.4,1041.2 712.2,1041.2 730.9,1039.6 749.6,1038.0 768.3,1036.3 787.1,1036.3 805.7,1037.1 824.5,1036.3 843.2,1039.6 862.0,1038.8 880.7,1036.3 899.5,1034.7 918.1,1034.7 936.9,1037.1 955.7,1038.8 974.3,1044.5 993.1,1048.6 1011.8,1043.7 1030.6,1045.3 1049.2,1048.6 1068.0,1051.8 1086.8,1045.3 1105.4,1050.2 1124.2,1045.3 1142.9,1044.0 1161.4,1044.3 1180.3,1047.7 1199.1,1045.7 1217.7,1040.9 1236.6,1040.0 1255.1,1042.3 1274.0,1047.1 1292.6,1050.9 1311.4,1052.3 1330.0,1053.4 1348.9,1052.9 1367.4,1052.3 1386.3,1056.3 1404.9,1054.3 1423.7,1053.4 1442.6,1055.7 1461.1,1059.4 1480.0,1059.1 1498.6,1058.0 1517.4,1058.6 1536.0,1060.0 1554.9,1062.0 1573.4,1062.3 1592.3,1061.4 1610.9,1058.0 1629.7,1059.4 1648.6,1055.1 1667.1,1056.3 1686.0,1050.9 1704.6,1048.6 1723.4,1047.1 1742.0,1045.7 1760.9,1046.6 1779.4,1049.1 1798.3,1050.0 1816.9,1046.6 1835.7,1045.1 1854.3,1044.9 1873.1,1045.1 1891.7,1046.6 1910.6,1053.4 1929.4,1050.9 1948.0,1052.9 1966.9,1050.0 1985.4,1048.6 2004.3,1054.3 2022.9,1051.4 2041.7,1053.4 2060.3,1050.9 2079.1,1051.4 2097.7,1050.9 2116.6,1054.3 2135.4,1051.4 2154.0,1047.1 2172.9,1045.7 2191.4,1042.9 2210.3,1042.9 2228.9,1035.7 2247.7,1034.3 2266.3,1041.4 2285.1,1046.3 2303.7,1035.7 2322.6,1034.3 2341.1,1031.4 2360.0,1028.6 2378.9,1030.9 2397.4,1030.0 2416.3,1029.1 2434.9,1033.4 2453.7,1035.7 2472.3,1029.1 2491.1,1024.9 2509.7,1024.3 2528.6,1025.7 2547.1,1026.4 2566.0,1020.0 2584.9,1018.6 2603.4,1021.4 2622.3,1022.3 2640.9,1020.0 2659.7,1015.7 2678.3,1005.7 2697.1,997.1 2715.7,996.6 2734.6,991.4 2753.1,980.6 2772.0,982.9 2790.6,977.1 2809.4,975.7 2828.0,972.9 2846.9,967.1 2865.7,961.4 2884.3,957.1 2903.1,958.6 2921.7,967.1 2940.6,962.9 2959.1,957.1 2978.0,952.3 2996.6,948.6 3015.4,945.7 3034.0,945.1 3052.9,950.0 3071.4,950.9 3090.3,951.4 3109.1,948.6 3127.7,944.9 3146.6,942.3 3165.1,930.0 3184.0,942.9 3202.6,950.0 3221.4,954.9 3240.0,957.1"/>
<polyline class="light" points="450.0,1082.0 468.7,1081.2 487.3,1072.2 506.1,1063.3 524.9,1069.0 543.7,1060.8 562.3,1064.9 581.1,1062.4 599.8,1060.0 618.4,1058.4 637.2,1061.6 656.0,1064.1 674.6,1061.6 693.4,1054.3 712.2,1058.4 730.9,1051.0 749.6,1046.1 768.3,1045.3 787.1,1040.4 805.7,1049.4 824.5,1062.4 843.2,1070.6 862.0,1073.9 880.7,1075.5 899.5,1073.9 918.1,1069.8 936.9,1068.2 955.7,1066.5 974.3,1069.0 993.1,1067.3 1011.8,1058.4 1030.6,1063.3 1049.2,1067.3 1068.0,1070.6 1086.8,1068.2 1105.4,1078.8 1124.2,1080.4 1142.9,1076.2 1161.4,1082.9 1180.3,1087.1 1199.1,1080.0 1217.7,1074.9 1236.6,1078.6 1255.1,1087.1 1274.0,1085.1 1292.6,1085.7 1311.4,1088.6 1330.0,1092.0 1348.9,1085.7 1367.4,1081.4 1386.3,1085.7 1404.9,1082.9 1423.7,1080.9 1442.6,1084.3 1461.1,1088.6 1480.0,1092.9 1498.6,1087.7 1517.4,1082.9 1536.0,1088.6 1554.9,1094.3 1573.4,1090.9 1592.3,1084.3 1610.9,1081.4 1629.7,1087.1 1648.6,1082.0 1667.1,1080.6 1686.0,1075.7 1704.6,1077.1 1723.4,1073.7 1742.0,1069.4 1760.9,1076.6 1779.4,1077.1 1798.3,1074.9 1816.9,1071.4 1835.7,1067.7 1854.3,1077.7 1873.1,1085.7 1891.7,1088.6 1910.6,1090.9 1929.4,1088.6 1948.0,1085.7 1966.9,1081.4 1985.4,1078.6 2004.3,1071.4 2022.9,1067.1 2041.7,1066.3 2060.3,1065.1 2079.1,1064.3 2097.7,1060.6 2116.6,1054.3 2135.4,1057.1 2154.0,1061.4 2172.9,1068.6 2191.4,1060.0 2210.3,1070.0 2228.9,1067.1 2247.7,1074.9 2266.3,1081.4 2285.1,1089.1 2303.7,1090.9 2322.6,1088.6 2341.1,1074.9 2360.0,1081.4 2378.9,1085.7 2397.4,1091.4 2416.3,1090.0 2434.9,1085.7 2453.7,1086.6 2472.3,1079.4 2491.1,1079.1 2509.7,1081.4 2528.6,1077.7 2547.1,1074.0"/>
<polyline class="light" points="2116.6,1054.3 2135.4,1055.1 2154.0,1054.9 2172.9,1067.1 2191.4,1054.3 2210.3,1059.1 2228.9,1051.4 2247.7,1042.9 2266.3,1047.1 2285.1,1042.3 2303.7,1041.4 2322.6,1042.9 2341.1,1037.7 2360.0,1030.9 2378.9,1032.0 2397.4,1035.1 2416.3,1037.7 2434.9,1043.4 2453.7,1040.6 2472.3,1034.3 2491.1,1027.1 2509.7,1024.9 2528.6,1026.3 2547.1,1027.9 2566.0,1030.0 2584.9,1030.9 2603.4,1027.1 2622.3,1017.7 2640.9,1024.3 2659.7,1024.3 2678.3,1022.9 2697.1,1029.4 2715.7,1027.1 2734.6,1027.1 2753.1,1027.7 2772.0,1029.4 2790.6,1038.0 2809.4,1036.3 2828.0,1035.1 2846.9,1033.4 2865.7,1036.3 2884.3,1039.1 2903.1,1041.4 2921.7,1042.3 2940.6,1042.0 2959.1,1045.7 2978.0,1046.3 2996.6,1042.0 3015.4,1040.6 3034.0,1041.4 3052.9,1042.0 3071.4,1043.7 3090.3,1040.0 3109.1,1040.9 3127.7,1039.1 3146.6,1040.0 3165.1,1035.7 3184.0,1038.6 3202.6,1040.0 3221.4,1040.0 3240.0,1039.1"/>
<polyline class="light" points="2397.4,1068.0 2416.3,1061.4 2434.9,1063.4 2453.7,1062.9 2472.3,1052.9 2491.1,1054.9 2509.7,1058.3 2528.6,1053.1 2547.1,1054.0 2566.0,1057.1 2584.9,1059.1 2603.4,1063.4 2622.3,1067.1 2640.9,1061.4 2659.7,1062.3 2678.3,1068.6 2697.1,1074.3 2715.7,1079.1 2734.6,1077.1 2753.1,1090.6 2772.0,1093.7 2790.6,1089.4 2809.4,1085.1 2828.0,1087.1 2846.9,1085.1 2865.7,1090.6 2884.3,1092.0 2903.1,1108.0 2921.7,1105.7 2940.6,1097.1 2959.1,1090.9 2978.0,1095.7 2996.6,1092.0 3015.4,1092.9 3034.0,1101.4 3052.9,1106.3 3071.4,1104.3 3090.3,1111.4 3109.1,1114.3 3127.7,1117.1 3146.6,1117.1 3165.1,1115.7 3184.0,1120.6 3202.6,1123.7 3221.4,1126.3 3240.0,1125.7"/>
<polyline class="light" points="450.0,1285.8 468.7,1283.1 487.4,1276.6 506.2,1267.9 524.9,1280.4 543.6,1274.9 562.3,1277.1 581.1,1282.0 599.8,1283.1 618.5,1272.8 637.2,1274.9 656.0,1274.4 674.7,1277.6 693.4,1267.3 712.1,1267.9 730.9,1260.8 749.6,1255.4 768.3,1247.3 787.0,1242.9 805.8,1252.1 824.5,1251.1 843.2,1259.2 861.9,1264.1 880.7,1261.9 899.4,1263.5 918.1,1257.6 936.8,1254.3 955.6,1254.9 974.3,1256.5 993.0,1261.9 1011.7,1252.7 1030.5,1255.9 1049.2,1255.4 1067.9,1255.9 1086.6,1247.3 1105.4,1252.7 1124.1,1247.8 1142.8,1237.2 1161.5,1240.8 1180.3,1253.2 1199.0,1243.5 1217.7,1241.3 1236.4,1239.1 1255.2,1253.2 1273.9,1251.6 1292.6,1255.9 1311.3,1255.9 1330.1,1258.7 1348.8,1256.5 1367.5,1248.3 1386.2,1250.5 1405.0,1252.1 1423.7,1251.1 1442.4,1249.4 1461.1,1254.3 1479.9,1259.2 1498.6,1253.2 1517.3,1250.5 1536.0,1254.3 1554.8,1254.9 1573.5,1247.8 1592.2,1247.3 1610.9,1242.4 1629.7,1243.7 1648.4,1237.5 1667.1,1242.9 1685.8,1237.0 1704.6,1242.4 1723.3,1232.1 1742.0,1226.6 1760.7,1231.0 1779.5,1236.4 1798.2,1232.1 1816.9,1227.2 1835.6,1225.6 1854.4,1229.1 1873.1,1238.0 1891.8,1244.3 1910.5,1248.3 1929.3,1252.1 1948.0,1253.8 1966.7,1252.1 1985.4,1248.3 2004.2,1245.1 2022.9,1245.6 2041.6,1245.1 2060.3,1242.9 2079.1,1240.2 2097.8,1237.0 2116.5,1229.9 2135.2,1232.9 2154.0,1231.5 2172.7,1243.7 2191.4,1243.7 2210.1,1250.0 2228.9,1238.6 2247.6,1249.2 2266.3,1252.7 2285.0,1265.7 2303.8,1259.2 2322.5,1264.1 2341.2,1239.1 2359.9,1244.3 2378.7,1248.3 2397.4,1252.7 2416.1,1245.1 2434.8,1241.3 2453.6,1237.0 2472.3,1229.9 2491.0,1220.7 2509.7,1219.0 2528.5,1211.5 2547.2,1204.9 2565.9,1205.5 2584.6,1201.4 2603.4,1200.6 2622.1,1206.3 2640.8,1213.6 2659.5,1218.0 2678.3,1221.2 2697.0,1228.8 2715.7,1222.0 2734.4,1220.1 2753.2,1228.8 2771.9,1232.1 2790.6,1231.5 2809.3,1227.2 2828.1,1228.0 2846.8,1221.2 2865.5,1226.6 2884.2,1229.9 2903.0,1256.5 2921.7,1258.1 2940.4,1256.5 2959.1,1247.8 2977.9,1252.1 2996.6,1247.3 3015.3,1246.2 3034.0,1257.0 3052.8,1267.3 3071.5,1263.0 3090.2,1270.6 3108.9,1277.6 3127.7,1280.4 3146.4,1283.6 3165.1,1279.8 3183.8,1281.4 3202.6,1276.3 3221.3,1277.1 3240.0,1278.7"/>
<polyline class="light" points="450.0,1096.4 468.7,1097.0 487.4,1092.1 506.2,1083.4 524.9,1087.2 543.6,1075.8 562.3,1079.6 581.1,1080.7 599.8,1080.7 618.5,1074.7 637.2,1080.2 656.0,1087.2 674.7,1083.4 693.4,1075.8 712.1,1076.4 730.9,1073.1 749.6,1070.4 768.3,1065.0 787.0,1065.0 805.8,1068.2 824.5,1077.2 843.2,1075.8 861.9,1077.7 880.7,1077.2 899.4,1078.5 918.1,1077.2 936.8,1074.2 955.6,1079.6 974.3,1076.4 993.0,1082.9 1011.7,1077.7 1030.5,1089.4 1049.2,1092.1 1067.9,1092.6 1086.6,1091.0 1105.4,1085.1 1124.1,1085.1 1142.8,1082.9 1161.5,1087.2 1180.3,1094.3 1199.0,1094.3 1217.7,1106.2 1236.4,1105.1 1255.2,1105.7 1273.9,1100.8 1292.6,1107.3 1311.3,1100.2 1330.1,1102.4 1348.8,1112.2 1367.5,1097.0 1386.2,1097.0 1405.0,1108.4 1423.7,1109.2 1442.4,1116.0 1461.1,1124.1 1479.9,1120.9 1498.6,1113.8 1517.3,1107.3 1536.0,1098.6 1554.8,1103.5 1573.5,1103.8 1592.2,1097.0 1610.9,1103.0 1629.7,1101.9 1648.4,1091.6 1667.1,1092.6 1685.8,1089.4 1704.6,1095.9 1723.3,1092.6 1742.0,1094.8 1760.7,1101.3 1779.5,1082.9 1798.2,1080.2 1816.9,1092.1 1835.6,1101.3 1854.4,1101.3 1873.1,1105.7 1891.8,1112.2 1910.5,1103.8 1929.3,1105.1 1948.0,1100.2 1966.7,1091.6 1985.4,1096.4 2004.2,1089.9 2022.9,1094.3 2041.6,1093.7 2060.3,1106.8 2079.1,1116.0 2097.8,1116.0 2116.5,1112.7 2135.2,1120.9 2154.0,1121.4 2172.7,1114.3 2191.4,1122.5 2210.1,1132.8 2228.9,1124.7 2247.6,1130.6 2266.3,1136.3 2285.0,1140.4 2303.8,1138.8 2322.5,1133.9 2341.2,1125.7 2359.9,1139.3 2378.7,1138.8 2397.4,1137.1 2416.1,1135.0 2434.8,1139.8 2453.6,1126.3 2472.3,1130.6 2491.0,1131.4 2509.7,1141.5 2528.5,1145.3 2547.2,1141.2 2565.9,1139.3 2584.6,1133.3 2603.4,1137.1 2622.1,1127.9 2640.8,1123.6 2659.5,1129.0 2678.3,1130.1 2697.0,1123.6 2715.7,1124.7 2734.4,1116.5 2753.2,1116.0 2771.9,1111.1 2790.6,1117.6 2809.3,1116.5 2828.1,1110.5 2846.8,1111.1 2865.5,1121.4 2884.2,1130.1 2903.0,1143.6 2921.7,1135.0 2940.4,1123.6 2959.1,1120.0 2977.9,1121.4 2996.6,1116.0 3015.3,1121.9 3034.0,1120.9 3052.8,1127.4 3071.5,1126.8 3090.2,1130.9 3108.9,1132.2 3127.7,1131.7 3146.4,1130.9 3165.1,1130.1 3183.8,1134.4 3202.6,1135.5 3221.3,1134.4 3240.0,1130.1"/>
<polyline class="dark" points="450.0,1084.3 468.7,1085.6 487.4,1077.2 506.2,1069.9 524.9,1075.8 543.6,1069.3 562.3,1074.7 581.1,1075.8 599.8,1068.8 618.5,1067.7 637.2,1071.5 656.0,1073.7 674.7,1073.1 693.4,1061.5 712.1,1063.9 730.9,1059.6 749.6,1056.3 768.3,1055.5 787.0,1058.5 805.8,1066.6 824.5,1069.3 843.2,1074.7 861.9,1076.4 880.7,1076.4 899.4,1075.3 918.1,1071.8 936.8,1069.3 955.6,1066.6 974.3,1075.8 993.0,1075.8 1011.7,1075.8 1030.5,1078.0 1049.2,1082.3 1067.9,1084.5 1086.6,1080.7 1105.4,1084.5 1124.1,1085.1 1142.8,1081.3 1161.5,1088.6 1180.3,1092.6 1199.0,1085.1 1217.7,1082.9 1236.4,1082.3 1255.2,1097.0 1273.9,1095.9 1292.6,1094.3 1311.3,1094.8 1330.1,1095.9 1348.8,1096.4 1367.5,1092.6 1386.2,1094.3 1405.0,1091.0 1423.7,1091.0 1442.4,1092.6 1461.1,1095.9 1479.9,1095.9 1498.6,1093.5 1517.3,1092.6 1536.0,1093.2 1554.8,1099.4 1573.5,1093.7 1592.2,1088.0 1610.9,1092.1 1629.7,1095.9 1648.4,1089.9 1667.1,1089.4 1685.8,1081.8 1704.6,1081.3 1723.3,1077.7 1742.0,1073.1 1760.7,1080.2 1779.5,1080.7 1798.2,1078.5 1816.9,1074.2 1835.6,1072.3 1854.4,1082.9 1873.1,1091.0 1891.8,1092.6 1910.5,1093.5 1929.3,1091.6 1948.0,1089.4 1966.7,1087.2 1985.4,1085.1 2004.2,1077.7 2022.9,1072.0 2041.6,1069.3 2060.3,1069.3 2079.1,1070.9 2097.8,1069.3 2116.5,1062.8 2135.2,1069.3 2154.0,1072.0 2172.7,1078.5 2191.4,1069.9 2210.1,1079.6 2228.9,1076.4 2247.6,1083.4 2266.3,1089.9 2285.0,1097.5 2303.8,1096.4 2322.5,1092.1 2341.2,1079.1 2359.9,1088.0 2378.7,1092.6 2397.4,1098.6 2416.1,1092.6 2434.8,1088.6 2453.6,1089.4 2472.3,1082.3 2491.0,1080.7 2509.7,1083.4 2528.5,1080.2 2547.2,1078.0 2565.9,1081.8 2584.6,1083.2 2603.4,1085.6 2622.1,1086.7 2640.8,1085.6 2659.5,1090.5 2678.3,1097.5 2697.0,1100.2 2715.7,1099.2 2734.4,1095.4 2753.2,1105.1 2771.9,1105.1 2790.6,1104.0 2809.3,1100.8 2828.1,1101.3 2846.8,1100.8 2865.5,1100.8 2884.2,1105.7 2903.0,1117.1 2921.7,1117.1 2940.4,1113.3 2959.1,1108.4 2977.9,1112.7 2996.6,1111.6 3015.3,1112.7 3034.0,1119.2 3052.8,1124.1 3071.5,1119.2 3090.2,1125.2 3108.9,1125.7 3127.7,1127.4 3146.4,1130.1 3165.1,1126.3 3183.8,1125.7 3202.6,1134.4 3221.3,1133.3 3240.0,1129.0"/>
<polyline class="dark" points="450.0,734.6 468.7,734.6 487.4,747.6 506.2,744.9 524.9,749.8 543.6,746.0 562.3,744.9 581.1,744.4 599.8,747.1 618.5,750.3 637.2,747.6 656.0,743.3 674.7,737.9 693.4,740.0 712.1,743.3 730.9,752.5 749.6,758.5 768.3,766.1 787.0,763.3 805.8,762.8 824.5,774.2 843.2,769.3 861.9,774.2 880.7,769.3 899.4,769.3 918.1,773.1 936.8,784.0 955.6,781.3 974.3,784.8 993.0,777.5 1011.7,778.0 1030.5,776.9 1049.2,766.1 1067.9,761.2 1086.6,759.6 1105.4,761.2 1124.1,762.3 1142.8,762.3 1161.5,760.6 1180.3,756.8 1199.0,762.3 1217.7,761.7 1236.4,769.3 1255.2,769.3 1273.9,760.6 1292.6,754.1 1311.3,760.1 1330.1,757.9 1348.8,762.3 1367.5,755.2 1386.2,753.0 1405.0,750.9 1423.7,751.4 1442.4,757.7 1461.1,757.9 1479.9,753.6 1498.6,760.1 1517.3,760.1 1536.0,756.8 1554.8,753.6 1573.5,743.8 1592.2,746.5 1610.9,738.9 1629.7,737.9 1648.4,748.2 1667.1,743.3 1685.8,743.3 1704.6,749.2 1723.3,749.8 1742.0,754.7 1760.7,753.6 1779.5,758.5 1798.2,752.2 1816.9,753.6 1835.6,754.7 1854.4,751.7 1873.1,745.4 1891.8,755.8 1910.5,754.1 1929.3,757.7 1948.0,756.3 1966.7,755.2 1985.4,753.6 2004.2,741.4 2022.9,744.4 2041.6,741.1 2060.3,722.1 2079.1,721.0 2097.8,722.7 2116.5,719.7 2135.2,720.5 2154.0,716.2 2172.7,720.2 2191.4,720.5 2210.1,713.4 2228.9,716.2 2247.6,711.8 2266.3,713.4 2285.0,714.8 2303.8,713.4 2322.5,718.3 2341.2,715.6 2359.9,717.8 2378.7,712.4 2397.4,710.7 2416.1,718.9 2434.8,716.2 2453.6,718.3 2472.3,727.5 2491.0,727.5 2509.7,724.8 2528.5,721.0 2547.2,729.7 2565.9,720.5 2584.6,717.8 2603.4,715.3 2622.1,714.0 2640.8,714.5 2659.5,719.7 2678.3,716.2 2697.0,714.8 2715.7,713.4 2734.4,711.8 2753.2,705.8 2771.9,703.4 2790.6,698.5 2809.3,688.2 2828.1,687.9 2846.8,684.7 2865.5,688.5 2884.2,689.0 2903.0,692.8 2921.7,693.9 2940.4,686.9 2959.1,682.0 2977.9,679.8 2996.6,682.0 3015.3,677.6 3034.0,672.8 3052.8,679.3 3071.5,679.8 3090.2,682.5 3108.9,663.0 3127.7,664.1 3146.4,666.2 3165.1,664.1 3183.8,671.4 3202.6,669.0 3221.3,664.6 3240.0,663.5"/>
<polyline class="med" points="450.0,955.4 468.7,956.2 487.4,959.2 506.2,955.4 524.9,959.2 543.6,960.3 562.3,964.1 581.1,963.5 599.8,964.1 618.5,961.9 637.2,959.2 656.0,959.7 674.7,957.6 693.4,959.2 712.1,959.2 730.9,954.3 749.6,960.8 768.3,959.7 787.0,957.0 805.8,962.2 824.5,962.4 843.2,961.9 861.9,967.6 880.7,965.7 899.4,964.1 918.1,964.1 936.8,970.6 955.6,971.1 974.3,976.0 993.0,977.1 1011.7,978.2 1030.5,978.7 1049.2,978.2 1067.9,976.0 1086.6,977.1 1105.4,980.9 1124.1,976.0 1142.8,979.3 1161.5,978.5 1180.3,983.9 1199.0,983.9 1217.7,982.0 1236.4,982.5 1255.2,985.2 1273.9,983.3 1292.6,982.5 1311.3,981.4 1330.1,980.4 1348.8,981.4 1367.5,982.8 1386.2,983.3 1405.0,983.1 1423.7,983.1 1442.4,983.3 1461.1,992.3 1479.9,990.7 1498.6,990.1 1517.3,997.7 1536.0,987.4 1554.8,984.7 1573.5,984.1 1592.2,990.7 1610.9,992.8 1629.7,993.4 1648.4,991.7 1667.1,989.0 1685.8,990.7 1704.6,994.2 1723.3,989.3 1742.0,995.5 1760.7,986.9 1779.5,997.2 1798.2,995.5 1816.9,994.2 1835.6,995.5 1854.4,996.1 1873.1,992.3 1891.8,994.2 1910.5,998.3 1929.3,1003.7 1948.0,997.7 1966.7,999.6 1985.4,1000.4 2004.2,996.1 2022.9,996.1 2041.6,1000.4 2060.3,997.7 2079.1,986.9 2097.8,986.9 2116.5,991.2 2135.2,994.7 2154.0,995.5 2172.7,992.3 2191.4,998.3 2210.1,998.8 2228.9,993.6 2247.6,994.2 2266.3,994.7 2285.0,999.9 2303.8,994.7 2322.5,997.7 2341.2,1001.0 2359.9,1000.4 2378.7,1001.5 2397.4,997.2 2416.1,996.1 2434.8,1000.4 2453.6,1000.4 2472.3,994.7 2491.0,992.3 2509.7,995.5 2528.5,995.5 2547.2,993.9 2565.9,991.7 2584.6,986.9 2603.4,987.9 2622.1,983.3 2640.8,991.7 2659.5,989.6 2678.3,987.4 2697.0,982.0 2715.7,983.3 2734.4,980.4 2753.2,973.3 2771.9,976.0 2790.6,977.6 2809.3,976.6 2828.1,978.7 2846.8,974.4 2865.5,969.5 2884.2,967.1 2903.0,964.6 2921.7,971.7 2940.4,969.5 2959.1,972.8 2977.9,975.5 2996.6,969.5 3015.3,973.0 3034.0,976.6 3052.8,974.4 3071.5,971.1 3090.2,972.5 3108.9,976.6 3127.7,974.9 3146.4,984.1 3165.1,984.7 3183.8,986.3 3202.6,984.7 3221.3,982.5 3240.0,979.3"/>
<polyline class="obs" points="730.9,869.9 749.6,866.4 768.3,855.6 787.0,850.7 805.8,847.4 824.5,846.9 843.2,854.2 861.9,864.8 880.7,874.0 899.4,879.4 918.1,883.8 936.8,886.0 955.6,892.5 974.3,899.5 993.0,899.5 1011.7,899.0 1030.5,896.8 1049.2,910.4 1067.9,920.7 1086.6,931.0 1105.4,936.4 1124.1,939.7 1142.8,947.8 1161.5,954.9 1180.3,960.3 1199.0,977.6 1217.7,985.2 1236.4,994.2 1255.2,995.5 1273.9,991.2 1292.6,986.9 1311.3,995.5 1330.1,1011.3 1348.8,1023.8 1367.5,1035.1 1386.2,1037.9 1405.0,1040.6 1423.7,1042.7 1442.4,1045.2 1461.1,1047.6 1479.9,1049.8 1498.6,1057.9 1517.3,1056.8 1536.0,1053.0"/>
</g>
<line class="grid" x1="619" y1="1838.2" x2="619" y2="210.0"/>
<line class="grid" x1="993" y1="1838.2" x2="993" y2="210.0"/>
<line class="grid" x1="1368" y1="1838.2" x2="1368" y2="210.0"/>
<line class="grid" x1="1742" y1="1838.2" x2="1742" y2="210.0"/>
<line class="grid" x1="2117" y1="1838.2" x2="2117" y2="210.0"/>
<line class="grid" x1="2491" y1="1838.2" x2="2491" y2="210.0"/>
<line class="grid" x1="2866" y1="1838.2" x2="2866" y2="210.0"/>
<line class="grid" x1="450.0" y1="1566" x2="3240.0" y2="1566"/>
<line class="grid" x1="450.0" y1="1295" x2="3240.0" y2="1295"/>
<line class="grid" x1="450.0" y1="1024" x2="3240.0" y2="1024"/>
<line class="grid" x1="450.0" y1="752" x2="3240.0" y2="752"/>
<line class="grid" x1="450.0" y1="481" x2="3240.0" y2="481"/>
<line class="tick" x1="619" y1="1837.5" x2="619" y2="1820.5"/>
<line class="tick" x1="619" y1="210.0" x2="619" y2="227.0"/>
<line class="tick" x1="993" y1="1837.5" x2="993" y2="1820.5"/>
<line class="tick" x1="993" y1="210.0" x2="993" y2="227.0"/>
<line class="tick" x1="1368" y1="1837.5" x2="1368" y2="1820.5"/>
<line class="tick" x1="1368" y1="210.0" x2="1368" y2="227.0"/>
<line class="tick" x1="1742" y1="1837.5" x2="1742" y2="1820.5"/>
<line class="tick" x1="1742" y1="210.0" x2="1742" y2="227.0"/>
<line class="tick" x1="2117" y1="1837.5" x2="2117" y2="1820.5"/>
<line class="tick" x1="2117" y1="210.0" x2="2117" y2="227.0"/>
<line class="tick" x1="2491" y1="1837.5" x2="2491" y2="1820.5"/>
<line class="tick" x1="2491" y1="210.0" x2="2491" y2="227.0"/>
<line class="tick" x1="2866" y1="1837.5" x2="2866" y2="1820.5"/>
<line class="tick" x1="2866" y1="210.0" x2="2866" y2="227.0"/>
<line class="tick" x1="3240" y1="1837.5" x2="3240" y2="1820.5"/>
<line class="tick" x1="3240" y1="210.0" x2="3240" y2="227.0"/>
<line class="tick" x1="450.0" y1="1837" x2="467.0" y2="1837"/>
<line class="tick" x1="3240.0" y1="1837" x2="3223.0" y2="1837"/>
<line class="tick" x1="450.0" y1="1566" x2="467.0" y2="1566"/>
<line class="tick" x1="3240.0" y1="1566" x2="3223.0" y2="1566"/>
<line class="tick" x1="450.0" y1="1295" x2="467.0" y2="1295"/>
<line class="tick" x1="3240.0" y1="1295" x2="3223.0" y2="1295"/>
<line class="tick" x1="450.0" y1="1024" x2="467.0" y2="1024"/>
<line class="tick" x1="3240.0" y1="1024" x2="3223.0" y2="1024"/>
<line class="tick" x1="450.0" y1="752" x2="467.0" y2="752"/>
<line class="tick" x1="3240.0" y1="752" x2="3223.0" y2="752"/>
<line class="tick" x1="450.0" y1="481" x2="467.0" y2="481"/>
<line class="tick" x1="3240.0" y1="481" x2="3223.0" y2="481"/>
<line class="tick" x1="450.0" y1="210" x2="467.0" y2="210"/>
<line class="tick" x1="3240.0" y1="210" x2="3223.0" y2="210"/>
<rect x="450" y="210" width="2790" height="1628" fill="none" stroke="#000" stroke-width="4"/>
<text class="tk" x="618.5" y="1895.4" text-anchor="middle">1960</text>
<text class="tk" x="993.0" y="1895.4" text-anchor="middle">1980</text>
<text class="tk" x="1367.5" y="1895.4" text-anchor="middle">2000</text>
<text class="tk" x="1742.0" y="1895.4" text-anchor="middle">2020</text>
<text class="tk" x="2116.5" y="1895.4" text-anchor="middle">2040</text>
<text class="tk" x="2491.0" y="1895.4" text-anchor="middle">2060</text>
<text class="tk" x="2865.5" y="1895.4" text-anchor="middle">2080</text>
<text class="tk" x="3240.0" y="1895.4" text-anchor="middle">2100</text>
<text class="tk" x="433.2" y="1852.5" text-anchor="end">0</text>
<text class="tk" x="433.2" y="1581.2" text-anchor="end">50</text>
<text class="tk" x="433.2" y="1310.0" text-anchor="end">100</text>
<text class="tk" x="433.2" y="1038.8" text-anchor="end">150</text>
<text class="tk" x="433.2" y="767.5" text-anchor="end">200</text>
<text class="tk" x="433.2" y="496.2" text-anchor="end">250</text>
<text class="tk" x="433.2" y="225.0" text-anchor="end">300</text>
<text class="lg" x="1845" y="189" text-anchor="middle">Zīlāni.Aug</text>
<text class="tk" x="1845" y="1968" text-anchor="middle">Gads</text>
<text class="tk" transform="translate(307.5,1586.5) rotate(-90)" x="0" y="0">Saules radiācija uz horizontālas virsmas,</text>
<text class="tk" transform="translate(307.5,624.0) rotate(-90)" x="0" y="0" font-style="italic" textLength="56.6" lengthAdjust="spacingAndGlyphs">W</text>
<text transform="translate(320.0,565.0) rotate(-90)" x="0" y="0" font-size="85.0px">/</text>
<text class="tk" transform="translate(307.5,538.1) rotate(-90)" x="0" y="0" font-style="italic" textLength="51.3" lengthAdjust="spacingAndGlyphs">m</text>
<text transform="translate(284,485.5) rotate(-90)" x="0" y="0" font-size="40.8px" textLength="24" lengthAdjust="spacingAndGlyphs">2</text>
<rect x="485" y="245" width="590" height="417" fill="#fff" stroke="#000" stroke-width="4"/>
<line x1="532" y1="298" x2="634" y2="298" stroke="#808080" stroke-width="4"/>
<line x1="532" y1="397" x2="634" y2="397" stroke="#808080" stroke-width="4"/>
<line x1="530" y1="496" x2="636" y2="496" stroke="#000" stroke-width="8"/>
<line x1="528" y1="595.4" x2="639" y2="595.4" stroke="#008000" stroke-width="12.8"/>
<text class="lg" x="710" y="321.0">13%</text>
<text class="lg" x="710" y="420.7">87%</text>
<text class="lg" x="710" y="520.4">Mediāna</text>
<text class="lg" x="710" y="620.0">Novērojumi</text>
</svg></body></html>
